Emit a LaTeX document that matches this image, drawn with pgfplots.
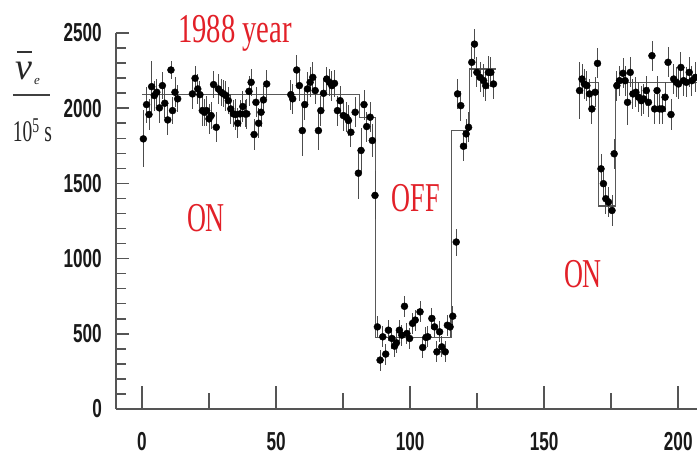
\documentclass[border=0pt]{standalone}
\usepackage{pgfplots}
\pgfplotsset{compat=1.18}
\usepackage{pgfplotstable}
\usepackage{fontspec}
\setmainfont{Liberation Serif}
\newfontfamily\arialf{Liberation Sans}
\definecolor{axgray}{RGB}{85,85,85}
\definecolor{txtred}{RGB}{226,32,40}
\newcommand\cond[1]{\scalebox{0.66}[1]{\arialf\bfseries\fontsize{26}{26}\selectfont #1}}
\newcommand\redt[2]{\scalebox{#1}[1]{\fontsize{41}{41}\selectfont #2}}

\pgfplotstableread{
x y e
0.5 1796 190
1.7 2024 120
2.6 1958 100
3.6 2143 170
4.6 2084 100
5.5 2106 90
6.5 2002 100
7.6 2150 90
8.5 2033 100
9.6 1922 100
10.8 2254 60
11.4 1984 90
12.3 2106 100
13.3 2062 90
18.8 2095 100
19.8 2199 80
20.8 2128 100
21.6 2090 90
22.5 1984 100
23.3 1973 90
24.1 1984 100
25.0 1929 100
25.8 1951 90
26.7 2157 90
27.7 1873 100
28.5 2128 100
29.5 2106 90
30.4 2095 90
31.3 2084 100
32.2 2050 90
33.1 1995 100
34.1 1962 90
35.0 1958 100
35.7 1900 100
36.6 1962 90
37.6 2011 100
38.4 1962 90
39.1 1962 100
39.9 2112 100
40.7 2172 90
41.8 1825 100
42.5 2039 100
43.5 1900 100
44.4 1973 100
45.3 2055 90
46.5 2161 90
55.5 2090 100
56.2 2062 100
57.7 2254 100
58.7 2150 100
59.8 1851 170
60.7 2024 100
61.7 2128 110
62.7 2172 100
63.7 2205 100
64.6 2117 90
65.8 1851 130
66.7 1984 100
67.7 2099 100
68.9 2194 80
69.9 2172 90
70.8 2150 100
71.8 2165 90
72.9 1984 100
73.9 2050 100
75.1 1951 100
76.2 1940 100
77.0 1918 100
77.9 1840 100
79.5 1973 100
80.7 1568 170
81.7 1719 150
82.8 2024 100
83.8 1878 100
85.1 1940 100
85.9 1785 110
86.9 1420 160
87.8 546 70
88.8 325 70
89.8 480 70
90.9 365 70
91.9 524 70
93.2 469 70
94.2 418 70
94.9 440 70
96.0 524 70
96.9 491 70
97.9 683 70
98.8 502 70
99.8 469 70
100.9 569 70
101.9 591 70
103.7 646 70
104.7 409 70
105.9 476 70
106.6 480 70
108.1 602 70
109.1 546 70
110.0 380 70
111.0 513 70
111.8 413 70
113.1 380 70
113.9 557 70
114.9 546 70
115.9 617 70
117.2 1110 90
117.7 2095 100
118.9 2017 100
119.9 1747 100
120.9 1829 100
121.8 1873 100
123.0 2305 100
124.0 2426 100
124.9 2238 100
126.1 2205 100
127.4 2183 110
128.2 2150 100
129.2 2238 110
130.1 2238 100
131.1 2161 100
163.2 2117 190
164.1 2194 100
165.0 2161 100
165.9 2150 100
166.9 2095 100
167.8 1995 100
169.0 2106 100
169.9 2298 100
171.2 1597 100
172.1 1498 100
173.0 1398 100
174.0 1376 100
175.3 1320 100
176.1 1697 100
177.1 2150 100
178.1 2183 100
179.4 2232 100
180.2 2183 100
181.1 2039 150
182.1 2238 100
183.1 2095 100
184.2 2106 100
185.2 2073 100
186.2 2050 100
187.1 2062 100
188.1 2117 100
188.9 2039 100
190.2 2349 100
191.2 1995 100
192.1 2117 100
193.1 1995 100
194.0 1995 100
195.1 2073 100
196.2 2305 100
197.3 1958 100
198.3 2194 100
199.3 2172 100
200.1 2161 100
201.0 2271 100
202.0 2183 100
203.0 2172 100
204.1 2238 100
205.1 2183 100
206.4 2205 100
}\rdata

\begin{document}
\begin{tikzpicture}
\useasboundingbox (-116pt,-48pt) rectangle (581pt,409pt);
\begin{axis}[at={(0pt,0pt)}, anchor=south west, scale only axis,
  width=581pt, height=376pt,
  xmin=-9.7, xmax=207, ymin=0, ymax=2500,
  axis x line=bottom, axis y line=left,
  axis line style={-, draw=axgray, line width=1.6pt},
  xtick=\empty,
  ytick={0,500,1000,1500,2000,2500},
  yticklabels={\cond{0},\cond{500},\cond{1000},\cond{1500},\cond{2000},\cond{2500}},
  minor ytick={100,200,...,2400},
  tick align=inside, major tick length=13pt, minor tick length=10pt,
  tick style={axgray, line width=1.5pt},
  yticklabel style={inner sep=0pt, anchor=east, xshift=-14pt, text=black!90},
  clip=false]
\addplot[const plot, draw=black!65, line width=1.3pt] coordinates {(0,2090)(81,1940)(87,476)(115.5,1850)(122.1,2260)(132.1,2260)};
\addplot[const plot, draw=black!65, line width=1.3pt] coordinates {(163,2172)(170.3,1350)(176.6,2172)(207,2172)};
\addplot[only marks, mark=*, mark size=3.5pt, black,
  error bars/.cd, y dir=both, y explicit, error mark=none,
  error bar style={line width=0.9pt, black!70}]
  table[x=x, y=y, y error=e]{\rdata};
\end{axis}
\begin{axis}[at={(0pt,0pt)}, anchor=south west, scale only axis,
  width=581pt, height=376pt,
  xmin=-9.7, xmax=207, ymin=0, ymax=2500,
  axis x line=bottom, axis y line=none,
  axis line style={-, draw=axgray, line width=1.6pt},
  ytick=\empty,
  xtick={0,50,100,150,200},
  xticklabels={\cond{0},\cond{50},\cond{100},\cond{150},\cond{200}},
  minor xtick={25,75,125,175},
  tick align=inside, major tick length=23pt, minor tick length=16pt,
  tick style={axgray, line width=1.5pt},
  xticklabel style={inner sep=0pt, anchor=north, yshift=-23pt, text=black!90}]
\end{axis}
\node[anchor=base, text=txtred, inner sep=0pt] at (119pt,366pt) {\redt{0.70}{1988 year}};
\node[anchor=base, text=txtred, inner sep=0pt] at (90pt,177pt) {\redt{0.64}{ON}};
\node[anchor=base, text=txtred, inner sep=0pt] at (300pt,197pt) {\redt{0.64}{OFF}};
\node[anchor=base, text=txtred, inner sep=0pt] at (467pt,121pt) {\redt{0.64}{ON}};
% y label
\node[anchor=base, inner sep=0pt, text=black!85] at (-92pt,329pt) {\fontsize{38}{38}\selectfont\itshape ν};
\node[anchor=base, inner sep=0pt, text=black!85] at (-79pt,324pt) {\fontsize{13}{13}\selectfont\itshape e};
\draw[black!80, line width=1.8pt] (-99pt,357pt) -- (-84pt,357pt);
\draw[black!75, line width=1.5pt] (-103pt,314pt) -- (-66pt,314pt);
\node[anchor=base, inner sep=0pt, text=black!85] at (-83.5pt,267pt) {\scalebox{0.65}[1]{\fontsize{30}{30}\selectfont 10\textsuperscript{5} s}};
\end{tikzpicture}
\end{document}
